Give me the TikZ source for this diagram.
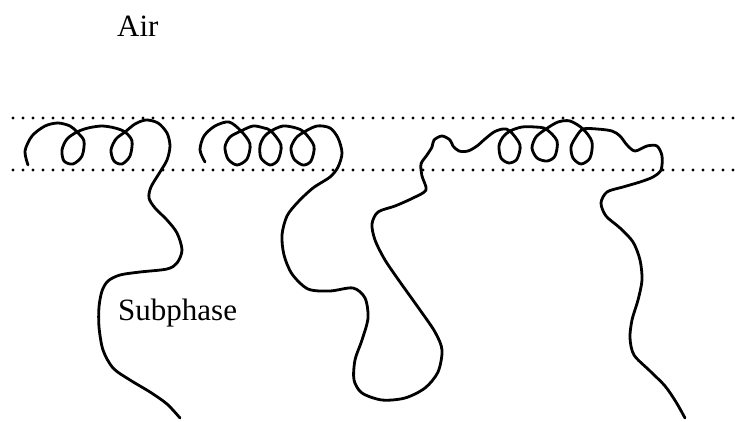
\documentclass[tikz,border=0pt]{standalone}
\usepackage{fontspec}
\setmainfont{Liberation Serif}

\begin{document}
\begin{tikzpicture}[x=1pt,y=-1pt,
  chain/.style={line width=2.8pt,line join=round,line cap=round},
  surface/.style={line width=3.4pt,line cap=round,dash pattern=on 0pt off 10pt},
  lbl/.style={anchor=base west,inner sep=0pt,font=\fontsize{31}{31}\selectfont}]
  \useasboundingbox (0,0) rectangle (735,422);
  % interface layer
  \foreach \y in {118,170} \draw[surface] (13,\y) -- (735,\y);
  \node[lbl] (air) at (117,37) {Air};
  \node[lbl] (sub) at (118,320) {Subphase};
  % first chain
  \draw[chain] plot[smooth] coordinates {(28,165) (25,151) (32,136) (45,126) (58,123) (70,126)
    (77,132) (84,141) (82,156) (73,164) (64,161) (62,150) (67,139) (77,132)
    (88,128) (102,126) (115,128)
    (125,132) (132,141) (130,156) (122,164) (114,161) (111,150) (116,139) (125,132)
    (135,124) (146,120) (158,123) (167,133) (170,146) (167,160) (160,172) (151,187) (149,198)
    (155,208) (167,220) (177,233) (182,250) (177,263) (167,269) (140,272) (120,275) (108,281)
    (102,291) (99,307) (99,327) (103,350) (113,368) (130,380) (150,392) (167,404) (180,418)};
  % second chain, looping through the subphase
  \draw[chain] plot[smooth] coordinates {(205,162) (200,150) (204,136) (215,126) (229,122)
    (241,131) (250,144) (247,159) (237,165) (228,159) (225,147) (230,137) (241,131)
    (253,126) (264,128)
    (271,131) (281,145) (278,160) (270,165) (261,158) (260,146) (264,137) (271,131)
    (283,126) (296,128)
    (304,132) (314,146) (311,161) (303,165) (294,159) (291,148) (296,138) (304,132)
    (317,126) (330,128) (338,138) (342,153) (338,167) (330,177) (313,188) (298,202) (287,216)
    (282,235) (284,255) (292,274) (308,289) (330,291) (353,288) (365,298) (368,318) (362,340)
    (355,360) (354,380) (362,393) (382,400) (405,398) (425,388) (438,372) (442,350) (435,332)
    (420,310) (400,282) (385,260) (375,240) (372,224) (378,212) (395,206) (413,198) (426,190)
    (422,176) (421,164) (427,155) (432,147) (434,140) (442,136) (450,140) (453,146) (459,151)
    (468,151) (477,146) (485,139) (494,132) (503,129)
    (510,131) (520,145) (517,159) (509,163) (501,158) (499,146) (503,137) (510,131)
    (522,127) (535,127)
    (546,129) (557,141) (555,156) (547,161) (537,158) (532,148) (536,137) (546,129)
    (558,122) (570,121)
    (583,129) (592,142) (590,158) (581,164) (573,158) (571,147) (576,137) (583,129)
    (597,129) (612,131) (620,136) (627,145) (635,151) (647,146) (657,146) (662,156) (661,170)
    (653,177) (640,182) (623,187) (607,192) (601,203) (606,216) (620,228) (633,242) (640,260)
    (642,280) (638,300) (632,320) (630,338) (634,355) (650,371) (665,386) (676,402) (685,418)};
\end{tikzpicture}
\end{document}
